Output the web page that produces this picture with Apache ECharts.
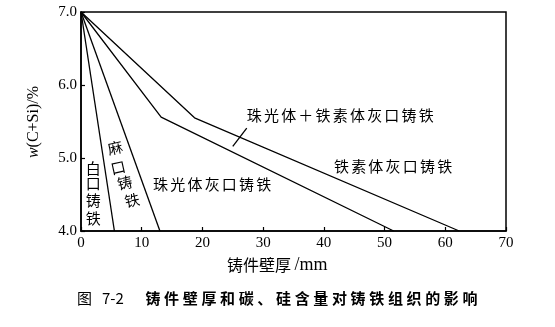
<!DOCTYPE html>
<html>
<head>
<meta charset="utf-8">
<script src="https://cdn.jsdelivr.net/npm/echarts@6/dist/echarts.min.js"></script>
<style>
html,body{margin:0;padding:0;background:#fff;}
#c{width:555px;height:327px;}
</style>
</head>
<body>
<div id="c"></div>
<script>
// Structure boundaries: [wall thickness mm, w(C+Si) %]
var lineWhiteMottled = [[0, 7.0], [5.5, 4.0]];
var lineMottledPearlite = [[0, 7.0], [13, 4.0]];
var linePearliteMixed = [[0, 7.0], [13.2, 5.56], [51.5, 4.0]];
var lineMixedFerrite = [[0, 7.0], [18.7, 5.55], [62.3, 4.0]];

var xTicks = [0, 10, 20, 30, 40, 50, 60, 70];
var yTicks = [4.0, 5.0, 6.0, 7.0];

// Region labels, anchored (centre) in data coordinates
var regionLabels = [
  { text: '珠光体＋铁素体灰口铸铁', at: [42.7, 5.58] },
  { text: '铁素体灰口铸铁', at: [51.4, 4.88] },
  { text: '珠光体灰口铸铁', at: [21.6, 4.64] }
];
var whiteChars = [
  { text: '白', at: [2.0, 4.86] },
  { text: '口', at: [2.0, 4.66] },
  { text: '铸', at: [2.0, 4.42] },
  { text: '铁', at: [2.0, 4.17] }
];
var mottledChars = [
  { text: '麻', at: [5.6, 5.14] },
  { text: '口', at: [6.1, 4.87] },
  { text: '铸', at: [7.2, 4.66] },
  { text: '铁', at: [8.4, 4.42] }
];
var leader = [[25.0, 5.16], [27.3, 5.41]];

var yTitle = 'w';
var yTitleRest = '(C+Si)/%';
var xTitle = '铸件壁厚';
var xUnit = '/mm';
var figWord = '图';
var figNo = '7-2';
var caption = '铸件壁厚和碳、硅含量对铸铁组织的影响';

var serif = '"Liberation Serif", "DejaVu Serif", serif';
var cjk = '"Noto Sans CJK SC", sans-serif';

var chart = echarts.init(document.getElementById('c'), null, { renderer: 'canvas' });

function mkLine(d) {
  return {
    type: 'line', data: d, symbol: 'none', silent: true,
    lineStyle: { color: '#000', width: 1.3 }
  };
}

chart.setOption({
  animation: false,
  backgroundColor: '#fff',
  grid: { left: 81, right: 49, top: 12, bottom: 96, show: true, borderColor: '#000', borderWidth: 1.5, backgroundColor: 'transparent' },
  xAxis: {
    type: 'value', min: xTicks[0], max: xTicks[xTicks.length - 1], interval: 10,
    axisLine: { lineStyle: { color: '#000', width: 1.5 } },
    axisTick: { inside: true, length: 4, lineStyle: { color: '#000', width: 1.2 } },
    axisLabel: { color: '#000', fontFamily: serif, fontSize: 15, margin: 5 },
    splitLine: { show: false }
  },
  yAxis: {
    type: 'value', min: yTicks[0], max: yTicks[yTicks.length - 1], interval: 1,
    axisLine: { lineStyle: { color: '#000', width: 1.5 } },
    axisTick: { inside: true, length: 4, lineStyle: { color: '#000', width: 1.2 } },
    axisLabel: { color: '#000', fontFamily: serif, fontSize: 15, margin: 4, formatter: function (v) { return v.toFixed(1); } },
    splitLine: { show: false }
  },
  series: [
    mkLine(lineWhiteMottled),
    mkLine(lineMottledPearlite),
    mkLine(linePearliteMixed),
    mkLine(lineMixedFerrite),
    mkLine(leader)
  ]
});

var g = [];
function px(p) { return chart.convertToPixel({ gridIndex: 0 }, p); }
function glyph(t, x, y, font, rot, align) {
  g.push({
    type: 'text', x: x, y: y, rotation: rot || 0,
    style: { text: t, font: font, fill: '#000', align: align || 'center', verticalAlign: 'middle' }
  });
}
// Text laid out one character at a time with a fixed advance
function spaced(t, cx, cy, advance, font) {
  var chars = Array.from(t);
  var x0 = cx - advance * (chars.length - 1) / 2;
  chars.forEach(function (ch, i) { glyph(ch, x0 + i * advance, cy, font); });
}
var labelFont = '15px ' + cjk;
regionLabels.forEach(function (l) { var q = px(l.at); spaced(l.text, q[0], q[1], 17.2, labelFont); });
whiteChars.forEach(function (l) { var q = px(l.at); glyph(l.text, q[0], q[1], labelFont); });
mottledChars.forEach(function (l) { var q = px(l.at); glyph(l.text, q[0], q[1], labelFont, 0.22); });

// Axis titles
g.push({
  type: 'text', x: 34, y: 122, rotation: Math.PI / 2,
  style: {
    text: '{i|' + yTitle + '}{n|' + yTitleRest + '}', align: 'center', verticalAlign: 'middle',
    rich: {
      i: { fontFamily: serif, fontStyle: 'italic', fontSize: 16, fill: '#000' },
      n: { fontFamily: serif, fontSize: 16, fill: '#000' }
    }
  }
});
g.push({
  type: 'text', x: 227, y: 265,
  style: {
    text: '{c|' + xTitle + ' }{n|' + xUnit + '}', align: 'left', verticalAlign: 'middle',
    rich: {
      c: { fontFamily: cjk, fontSize: 16, fill: '#000' },
      n: { fontFamily: serif, fontSize: 18, fill: '#000' }
    }
  }
});
// Figure caption
glyph(figWord, 77, 298, '15px ' + cjk, 0, 'left');
glyph(figNo, 102, 298, '15px ' + cjk, 0, 'left');
spaced(caption, (153 + 470) / 2, 298, 18.65, 'bold 15px ' + cjk);
chart.setOption({ graphic: g });
</script>
</body>
</html>
